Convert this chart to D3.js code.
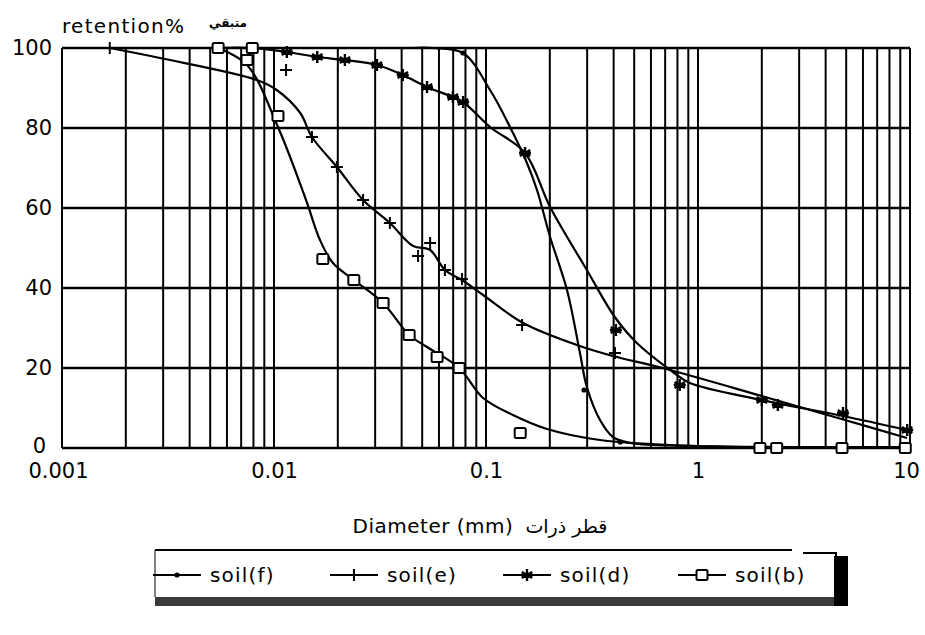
<!DOCTYPE html>
<html>
<head>
<meta charset="utf-8">
<script src="https://cdn.jsdelivr.net/npm/d3@7/dist/d3.min.js"></script>
<style>
	html, body { margin: 0; padding: 0; background: #fff; }
	svg text { font-family: "DejaVu Sans", sans-serif; fill: #000; }
</style>
</head>
<body>
<script>
// ---- data ----
var xTicks = [ 0.001, 0.01, 0.1, 1, 10 ];
var xTickLabels = [ '0.001', '0.01', '0.1', '1', '10' ];
var yTicks = [ 0, 20, 40, 60, 80, 100 ];

// fitted curves [diameter, retention%]
var soilFLine = [ [0.045,100], [0.0562,100], [0.0779,98.75], [0.1045,89.5], [0.1298,80.25], [0.156,71.25], [0.174,64.5], [0.2006,52.75], [0.241,39.5], [0.2775,23.75], [0.299,15.25], [0.345,7], [0.397,2.75], [0.478,1.25], [1,0.5], [10,0.25] ];
var soilELine = [ [0.00168,100], [0.0029,97.5], [0.0083,92], [0.0103,89.5], [0.0133,83.75], [0.0151,77.75], [0.0198,70.25], [0.0263,62], [0.0352,56.25], [0.0453,50.5], [0.0545,49.5], [0.064,44.5], [0.077,42], [0.0969,38.25], [0.1497,31.25], [0.277,25.5], [0.397,23], [0.68,20], [2.0,13], [4.93,7], [9.68,2.5] ];
var soilDLine = [ [0.00545,100], [0.00787,100], [0.0115,99], [0.016,97.75], [0.0216,97], [0.0306,95.75], [0.0405,93.25], [0.0527,90.25], [0.0698,87.75], [0.078,86.5], [0.1045,80.25], [0.1528,73.75], [0.2006,60.25], [0.299,44.5], [0.405,32.75], [0.515,26.25], [0.762,19], [0.916,16.25], [2.0,12], [4.83,8], [9.68,4.5] ];
var soilBLine = [ [0.00545,100], [0.00746,95.75], [0.01044,80.25], [0.01416,62], [0.01648,52], [0.01897,46.25], [0.0238,42], [0.0327,36.25], [0.0434,28.25], [0.0527,25.25], [0.0747,20], [0.0969,12.5], [0.134,8.25], [0.194,4.75], [0.345,2], [1,0.5], [10,0.25] ];

// measured points
var soilFPoints = [ [0.0779,98.75], [0.29,14.5], [0.43,1.5] ];
var soilEPoints = [ [0.00168,100], [0.0114,94.5], [0.0151,77.75], [0.0198,70.25], [0.0263,62], [0.0352,56.25], [0.0478,48], [0.0545,51.25], [0.064,44.5], [0.077,42.25], [0.148,30.75], [0.406,23.75] ];
var soilDPoints = [ [0.00545,100], [0.00787,100], [0.0115,99], [0.016,97.75], [0.0216,97], [0.0306,95.75], [0.0405,93.25], [0.0527,90.25], [0.0698,87.75], [0.078,86.5], [0.1528,73.75], [0.41,29.5], [0.82,15.75], [2.0,12], [2.38,10.75], [4.83,8.75], [9.7,4.5] ];
var soilBPoints = [ [0.00545,100], [0.0079,100], [0.00746,97], [0.01044,83], [0.017,47.25], [0.0238,42], [0.0327,36.25], [0.0434,28.25], [0.0588,22.75], [0.0747,20], [0.145,3.75], [1.96,0], [2.35,0], [4.78,0], [9.5,0] ];

var seriesNames = [ 'soil(f)', 'soil(e)', 'soil(d)', 'soil(b)' ];
var seriesMarkers = [ 'dot', 'plus', 'star', 'square' ];

var width = 925;
var height = 635;

var plot = { left: 62, right: 910, top: 48, bottom: 448 };

var svg = d3.select( 'body' ).append( 'svg' )
	.attr( 'width', width )
	.attr( 'height', height );

var scales = {};
scales.x = d3.scaleLog().domain( [ 0.001, 10 ] ).range( [ plot.left, plot.right ] );
scales.y = d3.scaleLinear().domain( [ 0, 100 ] ).range( [ plot.bottom, plot.top ] );

// grid: every 1..9 of each decade
var gridX = [];
[ 0.001, 0.01, 0.1, 1 ].forEach( function ( dec ) {
	for ( var k = 1; k < 10; k++ ) gridX.push( dec * k );
} );
gridX.push( 10 );

var grid = svg.append( 'g' ).attr( 'id', 'grid' );
grid.selectAll( 'line.vx' )
	.data( gridX )
	.enter().append( 'line' )
	.attr( 'x1', function ( d ) { return scales.x( d ); } )
	.attr( 'x2', function ( d ) { return scales.x( d ); } )
	.attr( 'y1', plot.top )
	.attr( 'y2', plot.bottom )
	.style( 'stroke', '#000' )
	.style( 'stroke-width', 2 );

grid.selectAll( 'line.hy' )
	.data( yTicks )
	.enter().append( 'line' )
	.attr( 'x1', plot.left )
	.attr( 'x2', plot.right )
	.attr( 'y1', function ( d ) { return scales.y( d ); } )
	.attr( 'y2', function ( d ) { return scales.y( d ); } )
	.style( 'stroke', '#000' )
	.style( 'stroke-width', 2.5 );

// axes labels
var yAxis = d3.axisLeft( scales.y ).tickValues( yTicks ).tickSize( 0 ).tickPadding( 10 );
var xAxis = d3.axisBottom( scales.x ).tickValues( xTicks ).tickSize( 0 ).tickPadding( 15 )
	.tickFormat( function ( d, i ) { return xTickLabels[i]; } );

var gy = svg.append( 'g' ).attr( 'transform', 'translate(' + plot.left + ',0)' ).call( yAxis );
var gx = svg.append( 'g' ).attr( 'transform', 'translate(0,' + plot.bottom + ')' ).call( xAxis );
[ gx, gy ].forEach( function ( g ) {
	g.select( '.domain' ).remove();
	g.selectAll( 'text' )
		.style( 'font-family', '"DejaVu Sans", sans-serif' )
		.style( 'font-size', '21px' )
		.style( 'fill', '#000' );
} );
gy.selectAll( '.tick' ).filter( function ( d ) { return d === 0; } ).select( 'text' ).attr( 'dx', -6 ).attr( 'dy', '0.2em' );
gx.selectAll( '.tick' ).filter( function ( d ) { return d === 0.001; } ).select( 'text' ).attr( 'dx', -4 );
gx.selectAll( '.tick' ).filter( function ( d ) { return d === 10; } ).select( 'text' ).attr( 'dx', -4 );

// titles
svg.append( 'text' )
	.attr( 'x', 62 ).attr( 'y', 33 )
	.style( 'font-size', '20px' )
	.style( 'letter-spacing', '1.3px' )
	.text( 'retention%' );
svg.append( 'text' )
	.attr( 'x', 228 ).attr( 'y', 27 )
	.attr( 'text-anchor', 'middle' )
	.style( 'font-size', '12px' )
	.style( 'font-weight', 'bold' )
	.text( 'متبقي' );

var xTitle = svg.append( 'text' )
	.attr( 'x', 480 ).attr( 'y', 533 )
	.attr( 'text-anchor', 'middle' )
	.style( 'font-size', '20px' );
xTitle.append( 'tspan' ).style( 'letter-spacing', '0.5px' ).text( 'Diameter (mm)' );
xTitle.append( 'tspan' ).attr( 'dx', 12 ).style( 'font-size', '19px' ).text( '\u200Fقطر ذرات' );

// curves
var line = d3.line()
	.x( function ( d ) { return scales.x( d[0] ); } )
	.y( function ( d ) { return scales.y( d[1] ); } )
	.curve( d3.curveCatmullRom.alpha( 0.5 ) );

var curves = [ soilFLine, soilELine, soilDLine, soilBLine ];
var points = [ soilFPoints, soilEPoints, soilDPoints, soilBPoints ];

svg.append( 'g' ).attr( 'id', 'curves' )
	.selectAll( 'path' )
	.data( curves )
	.enter().append( 'path' )
	.attr( 'd', line )
	.style( 'fill', 'none' )
	.style( 'stroke', '#000' )
	.style( 'stroke-width', 2.2 );

var drawMarker = function ( g, type, x, y ) {
	if ( type === 'dot' ) {
		g.append( 'circle' ).attr( 'cx', x ).attr( 'cy', y ).attr( 'r', 2.6 ).style( 'fill', '#000' );
	} else if ( type === 'plus' ) {
		g.append( 'path' )
			.attr( 'd', 'M' + ( x - 6 ) + ',' + y + 'H' + ( x + 6 ) + 'M' + x + ',' + ( y - 6 ) + 'V' + ( y + 6 ) )
			.style( 'stroke', '#000' ).style( 'stroke-width', 2 );
	} else if ( type === 'star' ) {
		var r = 6, dd = '';
		for ( var a = 0; a < 6; a++ ) {
			var t = a * Math.PI / 3 + Math.PI / 2;
			dd += 'M' + x + ',' + y + 'L' + ( x + r * Math.cos( t ) ) + ',' + ( y - r * Math.sin( t ) );
		}
		dd += 'M' + ( x - 6 ) + ',' + y + 'H' + ( x + 6 );
		g.append( 'path' ).attr( 'd', dd ).style( 'stroke', '#000' ).style( 'stroke-width', 2.4 );
	} else if ( type === 'square' ) {
		g.append( 'rect' )
			.attr( 'x', x - 5.5 ).attr( 'y', y - 5 )
			.attr( 'width', 11 ).attr( 'height', 10 )
			.attr( 'rx', 1.5 )
			.style( 'fill', '#fff' ).style( 'stroke', '#000' ).style( 'stroke-width', 2 );
	}
};

var markerLayer = svg.append( 'g' ).attr( 'id', 'markers' );
points.forEach( function ( set, si ) {
	set.forEach( function ( d ) {
		drawMarker( markerLayer, seriesMarkers[si], scales.x( d[0] ), scales.y( d[1] ) );
	} );
} );

// legend box with heavy shadow
var legend = svg.append( 'g' ).attr( 'id', 'legend' );
legend.append( 'rect' )
	.attr( 'x', 155 ).attr( 'y', 597 ).attr( 'width', 693 ).attr( 'height', 9 )
	.style( 'fill', '#3a3a3a' );
legend.append( 'rect' )
	.attr( 'x', 834 ).attr( 'y', 556 ).attr( 'width', 14 ).attr( 'height', 50 )
	.style( 'fill', '#000' );
legend.append( 'path' )
	.attr( 'd', 'M155,550H792M803,553H836V560' )
	.style( 'fill', 'none' ).style( 'stroke', '#000' ).style( 'stroke-width', 2 );
legend.append( 'line' )
	.attr( 'x1', 155 ).attr( 'x2', 155 ).attr( 'y1', 550 ).attr( 'y2', 597 )
	.style( 'stroke', '#000' ).style( 'stroke-width', 1 );

var legendX = [ 153, 330, 503, 678 ];
seriesNames.forEach( function ( name, i ) {
	var x0 = legendX[i];
	var ly = 575;
	legend.append( 'line' )
		.attr( 'x1', x0 ).attr( 'x2', x0 + 48 ).attr( 'y1', ly ).attr( 'y2', ly )
		.style( 'stroke', '#000' ).style( 'stroke-width', 2 );
	drawMarker( legend, seriesMarkers[i], x0 + 24, ly );
	legend.append( 'text' )
		.attr( 'x', x0 + 57 ).attr( 'y', ly + 7 )
		.style( 'font-size', '20px' )
		.style( 'letter-spacing', '1.2px' )
		.text( name );
} );
</script>
</body>
</html>
